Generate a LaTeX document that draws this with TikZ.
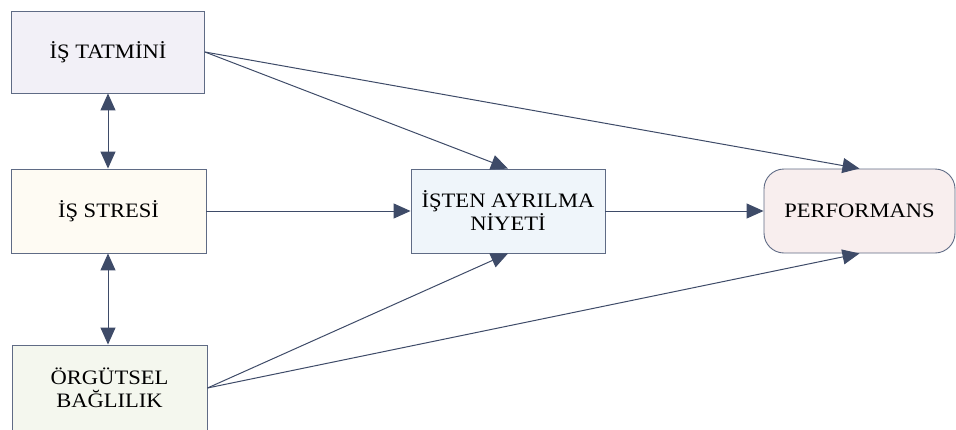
\documentclass[tikz,border=0pt]{standalone}
\usepackage{fontspec}
\setmainfont{Liberation Serif}[FakeStretch=1.1]
\usetikzlibrary{arrows.meta}
\definecolor{edgec}{HTML}{5F6B85}
\definecolor{arrc}{HTML}{3E4B68}
\definecolor{fA}{HTML}{F2F0F7}
\definecolor{fB}{HTML}{FEFBF3}
\definecolor{fC}{HTML}{F4F7EE}
\definecolor{fD}{HTML}{EFF5FA}
\definecolor{fE}{HTML}{F8EEEE}
\begin{document}
\begin{tikzpicture}[x=1pt,y=-1pt,
  boxst/.style={draw=edgec,line width=0.9pt,inner sep=0pt,align=center,
    font=\fontsize{20.5}{23}\selectfont,text=black},
  arr/.style={draw=arrc,line width=1pt,-{Triangle[length=17pt,width=15pt]}},
  darr/.style={draw=arrc,line width=1pt,{Triangle[length=17pt,width=15pt]}-{Triangle[length=17pt,width=15pt]}}]
\useasboundingbox (0,0) rectangle (956,429);
\node[boxst,fill=fA,minimum width=193pt,minimum height=82pt] (tat) at (108,52) {İŞ TATMİNİ};
\node[boxst,fill=fB,minimum width=195pt,minimum height=84pt] (str) at (108.5,211) {İŞ STRESİ};
\node[boxst,fill=fC,minimum width=195pt,minimum height=86pt] (org) at (109.5,388) {ÖRGÜTSEL\\BAĞLILIK};
\node[boxst,fill=fD,minimum width=194pt,minimum height=84pt] (ist) at (508,211) {İŞTEN AYRILMA\\NİYETİ};
\node[boxst,fill=fE,minimum width=191pt,minimum height=84pt,rounded corners=20pt] (perf) at (859.5,211) {PERFORMANS};
\draw[darr] (tat.south) -- (tat.south |- str.north);
\draw[darr] (tat.south |- str.south) -- (tat.south |- org.north);
\draw[arr] (tat.east) -- (ist.north);
\draw[arr] (tat.east) -- (perf.north);
\draw[arr] (str.east) -- (ist.west);
\draw[arr] (ist.east) -- (perf.west);
\draw[arr] (org.east) -- (ist.south);
\draw[arr] (org.east) -- (perf.south);
\end{tikzpicture}
\end{document}
